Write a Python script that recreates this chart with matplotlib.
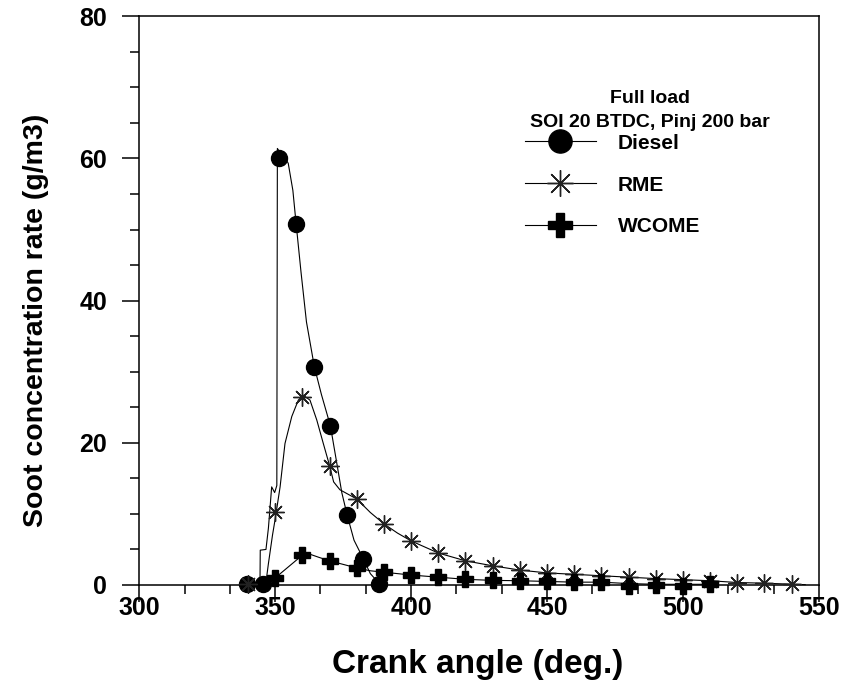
import matplotlib
matplotlib.use("Agg")
import matplotlib.pyplot as plt
from matplotlib.ticker import MultipleLocator
from matplotlib.lines import Line2D

plt.rcParams['font.family'] = ['Liberation Sans', 'DejaVu Sans']
plt.rcParams['font.weight'] = 'bold'

# ---- Data ----
# Diesel markers
diesel_mx = [339.5, 345.4, 351.5, 357.7, 364.4, 370.3, 376.5, 382.4, 388.3]
diesel_my = [0.2, 0.2, 60.0, 50.8, 30.7, 22.4, 9.8, 3.7, 0.2]
# Diesel curve
diesel_lx = [339.5, 344.4, 344.5, 346.6, 347.5, 348.7, 349.8, 350.6, 350.8, 351.5, 353.5, 354.8, 356.5, 357.7,
             359.5, 361.5, 364.4, 367.0, 370.3, 372.5, 374.5, 376.5, 379.0, 382.4, 385.0, 388.3]
diesel_ly = [0.2, 0.2, 4.9, 5.0, 8.0, 13.8, 13.0, 14.0, 61.4, 61.0, 60.2, 59.3, 55.5, 50.8,
             44.0, 37.0, 30.7, 26.8, 22.4, 17.5, 13.0, 9.8, 6.3, 3.7, 1.6, 0.2]

# RME markers
rme_mx = [340, 350, 360, 370, 380, 390, 400, 410, 420, 430, 440, 450, 460, 470, 480, 490, 500, 510, 520, 530, 540]
rme_my = [0.1, 10.3, 26.5, 16.8, 12.1, 8.6, 6.2, 4.5, 3.4, 2.7, 2.1, 1.7, 1.5, 1.3, 1.1, 0.9, 0.75, 0.6, 0.35, 0.25, 0.1]
# RME curve
rme_lx = [340, 346.5, 347.5, 349.0, 350.0, 351.8, 353.6, 356.1, 358.5, 360.3, 362.8, 365.3, 367.7, 370.0,
          371.5, 373.8, 375.7, 380.0, 385.0, 390.0, 395.0, 400.0, 410.0, 420.0, 430.0, 440.0, 450.0,
          460.0, 470.0, 480.0, 490.0, 500.0, 510.0, 520.0, 530.0, 545.0]
rme_ly = [0.1, 0.1, 3.0, 7.0, 9.3, 13.8, 19.9, 23.7, 26.0, 26.7, 26.0, 23.2, 19.9, 16.8,
          14.5, 13.4, 13.0, 12.1, 10.2, 8.6, 7.3, 6.2, 4.5, 3.4, 2.7, 2.1, 1.7,
          1.5, 1.3, 1.1, 0.9, 0.75, 0.6, 0.35, 0.25, 0.05]

# WCOME markers
wcome_mx = [350, 360, 370, 380, 390, 400, 410, 420, 430, 440, 450, 460, 470, 480, 490, 500, 510]
wcome_my = [1.0, 4.2, 3.4, 2.4, 1.8, 1.4, 1.1, 0.8, 0.65, 0.6, 0.5, 0.4, 0.4, -0.15, 0.0, -0.1, 0.1]
# WCOME curve
wcome_lx = [340, 348, 350, 360, 363, 366, 370, 375, 380, 385, 390, 400, 410, 420, 430, 440, 450, 460, 470, 480, 490, 500, 510]
wcome_ly = [0.0, 0.3, 1.0, 4.2, 4.3, 3.9, 3.4, 2.9, 2.4, 2.0, 1.8, 1.4, 1.1, 0.8, 0.65, 0.6, 0.5, 0.4, 0.4, 0.2, 0.1, 0.1, 0.1]

x_ticks = [300, 350, 400, 450, 500, 550]
y_ticks = [0, 20, 40, 60, 80]
series_names = ["Diesel", "RME", "WCOME"]
legend_title_1 = "Full load"
legend_title_2 = "SOI 20 BTDC, Pinj 200 bar"

# ---- Figure ----
fig = plt.figure(figsize=(8.45, 6.86), dpi=100)
ax = fig.add_axes([139.3 / 845, (686 - 585) / 686, (818.8 - 139.3) / 845, (585 - 16.2) / 686])

lw = 0.8
ax.plot(diesel_lx, diesel_ly, color='black', lw=lw, clip_on=False)
ax.plot(rme_lx, rme_ly, color='black', lw=lw, clip_on=False)
ax.plot(wcome_lx, wcome_ly, color='black', lw=lw, clip_on=False)

ax.plot(diesel_mx, diesel_my, ls='none', marker='o', ms=11.5, mfc='black', mec='black', clip_on=False, zorder=4)
ax.plot(rme_mx, rme_my, ls='none', marker=(8, 2, 0), ms=13, mec='#222222', mew=1.0, clip_on=False, zorder=4)
ax.plot(wcome_mx, wcome_my, ls='none', marker='P', ms=12, mfc='black', mec='black', clip_on=False, zorder=4)

ax.set_xlim(300, 550)
ax.set_ylim(0, 80)
ax.set_xticks(x_ticks)
ax.set_yticks(y_ticks)
ax.xaxis.set_minor_locator(MultipleLocator(50 / 3))
ax.yaxis.set_minor_locator(MultipleLocator(5))
ax.tick_params(which='major', direction='out', length=12.2, width=1.1, labelsize=18)
ax.tick_params(axis='x', which='major', pad=-4)
ax.tick_params(axis='y', which='major', pad=11)
ax.tick_params(which='minor', direction='out', length=6.2, width=1.1)
for lab in ax.get_xticklabels() + ax.get_yticklabels():
    lab.set_fontweight('bold')
for s in ax.spines.values():
    s.set_linewidth(1.1)

ax.set_xlabel("Crank angle (deg.)", fontsize=24, fontweight='bold', va='center')
ax.set_ylabel("Soot concentration rate (g/m3)", fontsize=20.5, fontweight='bold', va='center')
ax.xaxis.set_label_coords(0.4985, -0.1406)
ax.yaxis.set_label_coords(-0.152, 0.466)

# Legend
handles = [
    Line2D([], [], color='black', lw=lw, marker='o', ms=11.5, mfc='black', mec='black'),
    Line2D([], [], color='black', lw=lw, marker=(8, 2, 0), ms=13, mec='#222222', mew=1.0),
    Line2D([], [], color='black', lw=lw, marker='P', ms=12, mfc='black', mec='black'),
]
leg = ax.legend(handles, series_names, loc='upper left', bbox_to_anchor=(0.5676, 0.7935),
                frameon=False, prop={'weight': 'bold', 'size': 15},
                borderaxespad=0, borderpad=0,
                handlelength=3.4, handletextpad=1.07, labelspacing=1.1, markerscale=1.45)
ax.text(0.7516, 0.856, legend_title_1, transform=ax.transAxes, ha='center', va='center',
        fontsize=14, fontweight='bold')
ax.text(0.7516, 0.8135, legend_title_2, transform=ax.transAxes, ha='center', va='center',
        fontsize=14, fontweight='bold')

fig.savefig("out.png", dpi=100)
